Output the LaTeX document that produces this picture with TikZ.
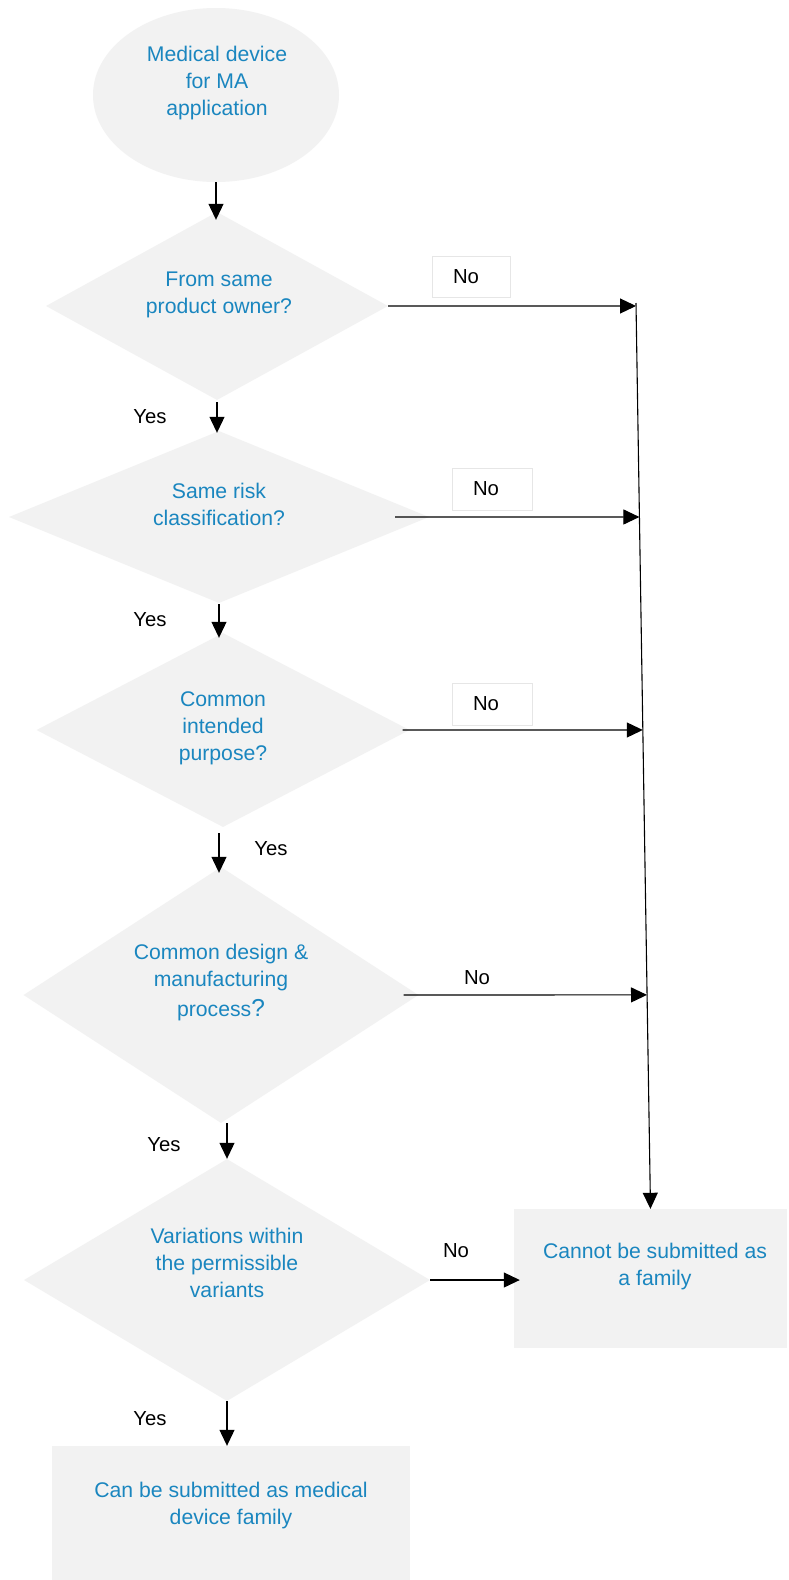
\documentclass[tikz,border=0pt]{standalone}
\usepackage{fontspec}
\setmainfont{Liberation Sans}
\usetikzlibrary{shapes.geometric,arrows.meta}
\definecolor{fillgray}{HTML}{F2F2F2}
\definecolor{textblue}{HTML}{1A86BF}
\definecolor{boxline}{HTML}{E6E6E6}

\begin{document}
\begin{tikzpicture}[x=1pt,y=-1pt,
  shapefill/.style={fill=fillgray, draw=none, inner sep=0pt},
  dia/.style={shapefill, diamond},
  txt/.style={text=textblue, align=center, font=\fontsize{21.2}{27}\selectfont, inner sep=0pt},
  lbl/.style={text=black, font=\fontsize{20.3}{24}\selectfont, inner sep=0pt},
  nobox/.style={lbl, draw=boxline, line width=1pt, minimum width=78pt, minimum height=41pt, align=left},
  arr/.style={line width=1.1pt, -{Triangle[width=15pt,length=16pt]}},
]
\useasboundingbox[fill=white] (0,0) rectangle (788,1580);

% start shape
\node[shapefill, ellipse, minimum width=246pt, minimum height=174pt] (start) at (216,95) {};
\node[txt] (starttxt) at (217,83) {Medical device\\for MA\\application};

% decisions
\node[dia, minimum width=342pt, minimum height=188pt] (d1) at (217,306) {};
\node[txt] (d1txt) at (219,295) {From same\\product owner?};

\node[dia, minimum width=420pt, minimum height=172pt] (d2) at (219,517) {};
\node[txt] (d2txt) at (219,504) {Same risk\\classification?};

\node[dia, minimum width=373pt, minimum height=194pt] (d3) at (223,730) {};
\node[txt] (d3txt) at (223,728) {Common\\intended\\purpose?};

\node[dia, minimum width=395pt, minimum height=256pt] (d4) at (221,995) {};
\node[txt] (d4txt) at (221,983) {Common design \&\\manufacturing\\[3pt]process{\fontsize{24.5}{27}\selectfont ?}};

\node[dia, minimum width=406pt, minimum height=242pt] (d5) at (227,1280) {};
\node[txt] (d5txt) at (227,1263) {Variations within\\the permissible\\variants};

% outcomes
\node[shapefill, minimum width=273pt, minimum height=139pt] (cn) at (650.5,1278.5) {};
\node[txt] (cntxt) at (655,1267) {Cannot be submitted as\\a family};

\node[shapefill, minimum width=358pt, minimum height=140pt] (can) at (231,1516) {};
\node[txt] (cantxt) at (231,1505) {Can be submitted as medical\\device family};

% yes path
\draw[arr, shorten >=-8pt] (start.south) -- (start.south |- d1.north);
\draw[arr, shorten <=2pt, shorten >=-2pt] (d1.south) -- (d1.south |- d2.north);
\draw[arr, shorten <=1pt, shorten >=-5pt] (d2.south) -- (d2.south |- d3.north);
\draw[arr, shorten <=6pt, shorten >=-6pt] (d3.south -| d2.south) -- (d2.south |- d4.north);
\draw[arr] (d4.south -| d5.north) -- (d5.north);
\draw[arr] (d5.south) -- (d5.south |- can.north);

\node[lbl] (y1) at (150,417) {Yes};
\node[lbl] (y2) at (150,620) {Yes};
\node[lbl] (y3) at (271,849) {Yes};
\node[lbl] (y4) at (164,1145) {Yes};
\node[lbl] (y5) at (150,1419) {Yes};

% no path
\coordinate (top) at (636,303);
\draw[arr] (top) -- (cn.north);
\draw[arr] (d1.east) -- (intersection cs: first line={(top)--(cn.north)}, second line={(d1.east)--(d1.east -| cn.north)});
\draw[arr] ([xshift=-34pt]d2.east) -- (intersection cs: first line={(top)--(cn.north)}, second line={(d2.east)--(d2.east -| cn.north)});
\draw[arr] ([xshift=-7pt]d3.east) -- (intersection cs: first line={(top)--(cn.north)}, second line={(d3.east)--(d3.east -| cn.north)});
\draw[arr] ([xshift=-15pt]d4.east) -- (intersection cs: first line={(top)--(cn.north)}, second line={(d4.east)--(d4.east -| cn.north)});
\draw[arr, shorten >=-6pt] (d5.east) -- (d5.east -| cn.west);

\node[nobox, text width=36pt] (no1) at (471,276.5) {No};
\node[nobox, text width=38pt, minimum width=80pt, minimum height=42pt] (no2) at (492,489) {No};
\node[nobox, text width=38pt, minimum width=80pt, minimum height=42pt] (no3) at (492,704) {No};
\node[lbl] (no4) at (477,978) {No};
\node[lbl] (no5) at (456,1251) {No};
\end{tikzpicture}
\end{document}
